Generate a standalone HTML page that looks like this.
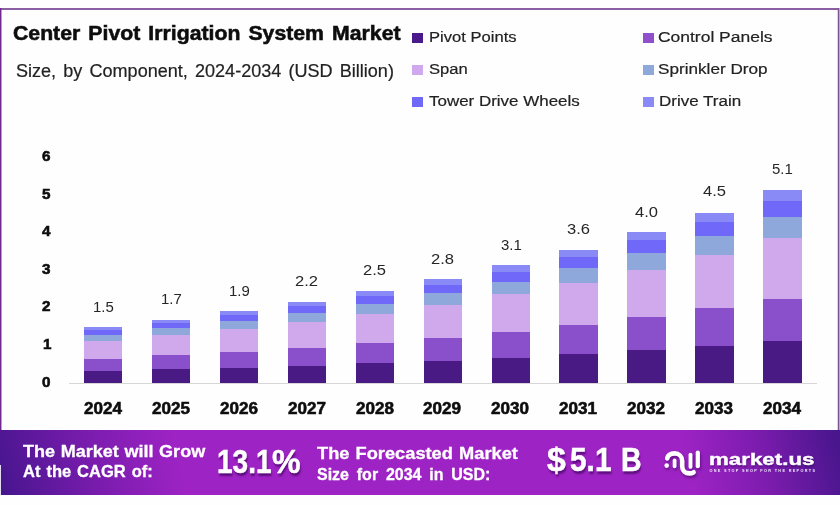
<!DOCTYPE html>
<html lang="en">
<head>
<meta charset="utf-8">
<title>Center Pivot Irrigation System Market</title>
<style>
html,body{margin:0;padding:0;background:#fefefe}
body{width:840px;height:505px;position:relative;overflow:hidden;font-family:"Liberation Sans", sans-serif}
.ft{position:absolute;left:0;top:8px;width:840px;height:2px;background:#8c5fa5}
.fl{position:absolute;left:0;top:8px;width:2px;height:423px;background:linear-gradient(90deg,#702890 0,#702890 1px,rgba(112,40,144,.45) 1px,rgba(112,40,144,.45) 2px)}
.fr{position:absolute;left:837px;top:8px;width:3px;height:423px;background:linear-gradient(90deg,rgba(122,85,144,.25) 0,rgba(122,85,144,.25) 1px,#7a5590 1px,#7a5590 2px,#c4a4d4 2px,#c4a4d4 3px)}
.wl{position:absolute;left:0;top:465px;width:1px;height:30px;background:rgba(255,255,255,.85)}
.t{position:absolute;white-space:pre;line-height:1em;transform-origin:0 50%}
.s,.b{position:absolute}
.p{display:inline-block;white-space:pre;transform-origin:0 50%;vertical-align:baseline}
.axis{position:absolute;left:69.0px;top:383.3px;width:747.5px;height:1px;background:#d6d6d6}
.banner{position:absolute;left:0;top:430px;width:840px;height:64.6px;background:linear-gradient(75deg,#441488 0%,#4a1690 1%,#7a1cae 12%,#9e23c4 22%,#9e23c4 81%,#7c1cae 90%,#4a168e 99%,#47168c 100%)}
</style>
</head>
<body>
<div class="ft"></div><div class="fl"></div><div class="fr"></div>
<div class="s" style="left:412.4px;top:33px;width:11px;height:10.4px;background:#4a1a8a"></div>
<div class="s" style="left:412.4px;top:65px;width:11px;height:10.4px;background:#d0a8ee"></div>
<div class="s" style="left:412.4px;top:97px;width:11px;height:10.4px;background:#7068f6"></div>
<div class="s" style="left:643px;top:33px;width:11px;height:10.4px;background:#9050cc"></div>
<div class="s" style="left:643px;top:65px;width:11px;height:10.4px;background:#8fa8dc"></div>
<div class="s" style="left:643px;top:97px;width:11px;height:10.4px;background:#8a8af6"></div>
<div class="axis"></div>
<div class="b" style="left:83.78px;top:371.04px;width:38.4px;height:12.26px;background:#4a1a84"></div>
<div class="b" style="left:83.78px;top:358.56px;width:38.4px;height:12.48px;background:#8a50cc"></div>
<div class="b" style="left:83.78px;top:340.81px;width:38.4px;height:17.75px;background:#d0a8ec"></div>
<div class="b" style="left:83.78px;top:334.72px;width:38.4px;height:6.09px;background:#8fa8dc"></div>
<div class="b" style="left:83.78px;top:329.93px;width:38.4px;height:4.79px;background:#7068f8"></div>
<div class="b" style="left:83.78px;top:326.95px;width:38.4px;height:2.99px;background:#8a8af6"></div>
<div class="b" style="left:151.73px;top:369.44px;width:38.4px;height:13.86px;background:#4a1a84"></div>
<div class="b" style="left:151.73px;top:355.32px;width:38.4px;height:14.12px;background:#8a50cc"></div>
<div class="b" style="left:151.73px;top:335.24px;width:38.4px;height:20.08px;background:#d0a8ec"></div>
<div class="b" style="left:151.73px;top:328.36px;width:38.4px;height:6.88px;background:#8fa8dc"></div>
<div class="b" style="left:151.73px;top:322.94px;width:38.4px;height:5.42px;background:#7068f8"></div>
<div class="b" style="left:151.73px;top:319.56px;width:38.4px;height:3.38px;background:#8a8af6"></div>
<div class="b" style="left:219.69px;top:367.62px;width:38.4px;height:15.68px;background:#4a1a84"></div>
<div class="b" style="left:219.69px;top:351.65px;width:38.4px;height:15.97px;background:#8a50cc"></div>
<div class="b" style="left:219.69px;top:328.95px;width:38.4px;height:22.71px;background:#d0a8ec"></div>
<div class="b" style="left:219.69px;top:321.16px;width:38.4px;height:7.79px;background:#8fa8dc"></div>
<div class="b" style="left:219.69px;top:315.03px;width:38.4px;height:6.13px;background:#7068f8"></div>
<div class="b" style="left:219.69px;top:311.21px;width:38.4px;height:3.82px;background:#8a8af6"></div>
<div class="b" style="left:287.64px;top:365.57px;width:38.4px;height:17.73px;background:#4a1a84"></div>
<div class="b" style="left:287.64px;top:347.51px;width:38.4px;height:18.06px;background:#8a50cc"></div>
<div class="b" style="left:287.64px;top:321.83px;width:38.4px;height:25.68px;background:#d0a8ec"></div>
<div class="b" style="left:287.64px;top:313.02px;width:38.4px;height:8.81px;background:#8fa8dc"></div>
<div class="b" style="left:287.64px;top:306.09px;width:38.4px;height:6.93px;background:#7068f8"></div>
<div class="b" style="left:287.64px;top:301.77px;width:38.4px;height:4.32px;background:#8a8af6"></div>
<div class="b" style="left:355.60px;top:363.24px;width:38.4px;height:20.06px;background:#4a1a84"></div>
<div class="b" style="left:355.60px;top:342.82px;width:38.4px;height:20.42px;background:#8a50cc"></div>
<div class="b" style="left:355.60px;top:313.77px;width:38.4px;height:29.05px;background:#d0a8ec"></div>
<div class="b" style="left:355.60px;top:303.81px;width:38.4px;height:9.96px;background:#8fa8dc"></div>
<div class="b" style="left:355.60px;top:295.98px;width:38.4px;height:7.84px;background:#7068f8"></div>
<div class="b" style="left:355.60px;top:291.09px;width:38.4px;height:4.89px;background:#8a8af6"></div>
<div class="b" style="left:423.55px;top:360.62px;width:38.4px;height:22.68px;background:#4a1a84"></div>
<div class="b" style="left:423.55px;top:337.52px;width:38.4px;height:23.10px;background:#8a50cc"></div>
<div class="b" style="left:423.55px;top:304.66px;width:38.4px;height:32.85px;background:#d0a8ec"></div>
<div class="b" style="left:423.55px;top:293.40px;width:38.4px;height:11.26px;background:#8fa8dc"></div>
<div class="b" style="left:423.55px;top:284.54px;width:38.4px;height:8.86px;background:#7068f8"></div>
<div class="b" style="left:423.55px;top:279.01px;width:38.4px;height:5.53px;background:#8a8af6"></div>
<div class="b" style="left:491.50px;top:357.65px;width:38.4px;height:25.65px;background:#4a1a84"></div>
<div class="b" style="left:491.50px;top:331.52px;width:38.4px;height:26.13px;background:#8a50cc"></div>
<div class="b" style="left:491.50px;top:294.36px;width:38.4px;height:37.16px;background:#d0a8ec"></div>
<div class="b" style="left:491.50px;top:281.62px;width:38.4px;height:12.74px;background:#8fa8dc"></div>
<div class="b" style="left:491.50px;top:271.60px;width:38.4px;height:10.03px;background:#7068f8"></div>
<div class="b" style="left:491.50px;top:265.35px;width:38.4px;height:6.25px;background:#8a8af6"></div>
<div class="b" style="left:559.46px;top:354.28px;width:38.4px;height:29.02px;background:#4a1a84"></div>
<div class="b" style="left:559.46px;top:324.74px;width:38.4px;height:29.55px;background:#8a50cc"></div>
<div class="b" style="left:559.46px;top:282.71px;width:38.4px;height:42.02px;background:#d0a8ec"></div>
<div class="b" style="left:559.46px;top:268.31px;width:38.4px;height:14.41px;background:#8fa8dc"></div>
<div class="b" style="left:559.46px;top:256.97px;width:38.4px;height:11.34px;background:#7068f8"></div>
<div class="b" style="left:559.46px;top:249.90px;width:38.4px;height:7.07px;background:#8a8af6"></div>
<div class="b" style="left:627.41px;top:350.48px;width:38.4px;height:32.82px;background:#4a1a84"></div>
<div class="b" style="left:627.41px;top:317.06px;width:38.4px;height:33.42px;background:#8a50cc"></div>
<div class="b" style="left:627.41px;top:269.54px;width:38.4px;height:47.53px;background:#d0a8ec"></div>
<div class="b" style="left:627.41px;top:253.24px;width:38.4px;height:16.30px;background:#8fa8dc"></div>
<div class="b" style="left:627.41px;top:240.42px;width:38.4px;height:12.82px;background:#7068f8"></div>
<div class="b" style="left:627.41px;top:232.42px;width:38.4px;height:8.00px;background:#8a8af6"></div>
<div class="b" style="left:695.37px;top:346.18px;width:38.4px;height:37.12px;background:#4a1a84"></div>
<div class="b" style="left:695.37px;top:308.39px;width:38.4px;height:37.80px;background:#8a50cc"></div>
<div class="b" style="left:695.37px;top:254.63px;width:38.4px;height:53.75px;background:#d0a8ec"></div>
<div class="b" style="left:695.37px;top:236.20px;width:38.4px;height:18.43px;background:#8fa8dc"></div>
<div class="b" style="left:695.37px;top:221.70px;width:38.4px;height:14.50px;background:#7068f8"></div>
<div class="b" style="left:695.37px;top:212.65px;width:38.4px;height:9.04px;background:#8a8af6"></div>
<div class="b" style="left:763.32px;top:341.32px;width:38.4px;height:41.98px;background:#4a1a84"></div>
<div class="b" style="left:763.32px;top:298.57px;width:38.4px;height:42.75px;background:#8a50cc"></div>
<div class="b" style="left:763.32px;top:237.78px;width:38.4px;height:60.80px;background:#d0a8ec"></div>
<div class="b" style="left:763.32px;top:216.93px;width:38.4px;height:20.84px;background:#8fa8dc"></div>
<div class="b" style="left:763.32px;top:200.53px;width:38.4px;height:16.41px;background:#7068f8"></div>
<div class="b" style="left:763.32px;top:190.30px;width:38.4px;height:10.23px;background:#8a8af6"></div>
<div class="banner"></div><div class="wl"></div>
<svg class="logo" width="60" height="40" viewBox="655 445 60 40" style="position:absolute;left:655px;top:445px;overflow:visible;filter:drop-shadow(1px 2px 1.5px rgba(50,0,80,.55))" fill="none" stroke="#fff" stroke-linecap="round" stroke-linejoin="round">
<circle cx="666.7" cy="465.6" r="2.3" fill="#fff" stroke="none"/>
<path d="M667.2 458.4 C668 455.3 671 453.4 674.6 453.4 C679 453.4 682.2 456.6 682.2 460.9 L682.2 466.2 C682.2 470.8 685.3 473.4 689.4 473.4 C691.2 473.4 692.6 473 693.6 472.3" stroke-width="4.6"/>
<path d="M674.6 460.4 V466.3" stroke-width="3.8"/>
<path d="M690.5 454.6 V466.9" stroke-width="3.9"/>
<path d="M697.8 452.6 V466.2" stroke-width="4.2"/>
</svg>
<div class="t" style="left:12.85px;top:23.00px;font-size:20.3px;font-weight:700;color:#0d0d0d;transform:scaleX(1.0469);word-spacing:2.09px;-webkit-text-stroke:0.55px currentColor;">Center Pivot Irrigation System Market</div>
<div class="t" style="left:15.98px;top:63.00px;font-size:17.6px;font-weight:400;color:#222;transform:scaleX(1.0256);word-spacing:2.11px;-webkit-text-stroke:0.2px currentColor;">Size, by Component, 2024-2034 (USD Billion)</div>
<div class="t" style="left:429.20px;top:29.00px;font-size:15.2px;font-weight:400;color:#222;transform:scaleX(1.0922);-webkit-text-stroke:0.2px currentColor;">Pivot Points</div>
<div class="t" style="left:429.20px;top:61.00px;font-size:15.2px;font-weight:400;color:#222;transform:scaleX(1.0934);-webkit-text-stroke:0.2px currentColor;">Span</div>
<div class="t" style="left:429.20px;top:93.00px;font-size:15.2px;font-weight:400;color:#222;transform:scaleX(1.1166);-webkit-text-stroke:0.2px currentColor;">Tower Drive Wheels</div>
<div class="t" style="left:658.00px;top:29.00px;font-size:15.2px;font-weight:400;color:#222;transform:scaleX(1.1493);-webkit-text-stroke:0.2px currentColor;">Control Panels</div>
<div class="t" style="left:658.40px;top:61.00px;font-size:15.2px;font-weight:400;color:#222;transform:scaleX(1.1290);-webkit-text-stroke:0.2px currentColor;">Sprinkler Drop</div>
<div class="t" style="left:658.60px;top:93.00px;font-size:15.2px;font-weight:400;color:#222;transform:scaleX(1.1193);-webkit-text-stroke:0.2px currentColor;">Drive Train</div>
<div class="t" style="left:92.78px;top:300.00px;font-size:14px;font-weight:400;color:#262626;transform:scaleX(1.0684);">1.5</div>
<div class="t" style="left:83.68px;top:401.00px;font-size:15.6px;font-weight:700;color:#0d0d0d;transform:scaleX(1.0950);-webkit-text-stroke:0.55px currentColor;">2024</div>
<div class="t" style="left:160.73px;top:292.00px;font-size:14px;font-weight:400;color:#262626;transform:scaleX(1.0684);">1.7</div>
<div class="t" style="left:151.63px;top:401.00px;font-size:15.6px;font-weight:700;color:#0d0d0d;transform:scaleX(1.0950);-webkit-text-stroke:0.55px currentColor;">2025</div>
<div class="t" style="left:228.69px;top:284.00px;font-size:14px;font-weight:400;color:#262626;transform:scaleX(1.0684);">1.9</div>
<div class="t" style="left:219.59px;top:401.00px;font-size:15.6px;font-weight:700;color:#0d0d0d;transform:scaleX(1.0950);-webkit-text-stroke:0.55px currentColor;">2026</div>
<div class="t" style="left:295.14px;top:274.00px;font-size:14px;font-weight:400;color:#262626;transform:scaleX(1.1814);">2.2</div>
<div class="t" style="left:287.54px;top:401.00px;font-size:15.6px;font-weight:700;color:#0d0d0d;transform:scaleX(1.0950);-webkit-text-stroke:0.55px currentColor;">2027</div>
<div class="t" style="left:363.10px;top:263.00px;font-size:14px;font-weight:400;color:#262626;transform:scaleX(1.1814);">2.5</div>
<div class="t" style="left:355.50px;top:401.00px;font-size:15.6px;font-weight:700;color:#0d0d0d;transform:scaleX(1.0950);-webkit-text-stroke:0.55px currentColor;">2028</div>
<div class="t" style="left:431.05px;top:252.00px;font-size:14px;font-weight:400;color:#262626;transform:scaleX(1.1814);">2.8</div>
<div class="t" style="left:423.45px;top:401.00px;font-size:15.6px;font-weight:700;color:#0d0d0d;transform:scaleX(1.0950);-webkit-text-stroke:0.55px currentColor;">2029</div>
<div class="t" style="left:500.50px;top:238.00px;font-size:14px;font-weight:400;color:#262626;transform:scaleX(1.0684);">3.1</div>
<div class="t" style="left:491.40px;top:401.00px;font-size:15.6px;font-weight:700;color:#0d0d0d;transform:scaleX(1.0950);-webkit-text-stroke:0.55px currentColor;">2030</div>
<div class="t" style="left:566.96px;top:222.00px;font-size:14px;font-weight:400;color:#262626;transform:scaleX(1.1814);">3.6</div>
<div class="t" style="left:559.36px;top:401.00px;font-size:15.6px;font-weight:700;color:#0d0d0d;transform:scaleX(1.0950);-webkit-text-stroke:0.55px currentColor;">2031</div>
<div class="t" style="left:634.91px;top:205.00px;font-size:14px;font-weight:400;color:#262626;transform:scaleX(1.1814);">4.0</div>
<div class="t" style="left:627.31px;top:401.00px;font-size:15.6px;font-weight:700;color:#0d0d0d;transform:scaleX(1.0950);-webkit-text-stroke:0.55px currentColor;">2032</div>
<div class="t" style="left:702.87px;top:184.00px;font-size:14px;font-weight:400;color:#262626;transform:scaleX(1.1814);">4.5</div>
<div class="t" style="left:695.27px;top:401.00px;font-size:15.6px;font-weight:700;color:#0d0d0d;transform:scaleX(1.0950);-webkit-text-stroke:0.55px currentColor;">2033</div>
<div class="t" style="left:772.32px;top:162.00px;font-size:14px;font-weight:400;color:#262626;transform:scaleX(1.0684);">5.1</div>
<div class="t" style="left:763.22px;top:401.00px;font-size:15.6px;font-weight:700;color:#0d0d0d;transform:scaleX(1.0950);-webkit-text-stroke:0.55px currentColor;">2034</div>
<div class="t" style="left:42.10px;top:375.00px;font-size:14px;font-weight:700;color:#0d0d0d;transform:scaleX(1.0902);-webkit-text-stroke:0.55px currentColor;">0</div>
<div class="t" style="left:43.10px;top:337.00px;font-size:14px;font-weight:700;color:#0d0d0d;transform:scaleX(1.0902);-webkit-text-stroke:0.55px currentColor;">1</div>
<div class="t" style="left:42.10px;top:299.00px;font-size:14px;font-weight:700;color:#0d0d0d;transform:scaleX(1.0902);-webkit-text-stroke:0.55px currentColor;">2</div>
<div class="t" style="left:42.10px;top:262.00px;font-size:14px;font-weight:700;color:#0d0d0d;transform:scaleX(1.0902);-webkit-text-stroke:0.55px currentColor;">3</div>
<div class="t" style="left:42.10px;top:224.00px;font-size:14px;font-weight:700;color:#0d0d0d;transform:scaleX(1.0902);-webkit-text-stroke:0.55px currentColor;">4</div>
<div class="t" style="left:42.10px;top:187.00px;font-size:14px;font-weight:700;color:#0d0d0d;transform:scaleX(1.0902);-webkit-text-stroke:0.55px currentColor;">5</div>
<div class="t" style="left:42.10px;top:149.00px;font-size:14px;font-weight:700;color:#0d0d0d;transform:scaleX(1.0902);-webkit-text-stroke:0.55px currentColor;">6</div>
<div class="t" style="left:22.58px;top:444.00px;font-size:16.6px;font-weight:700;color:#fff;transform:scaleX(1.0855);word-spacing:0.61px;-webkit-text-stroke:0.3px #fff;">The Market will Grow</div>
<div class="t" style="left:22.64px;top:464.00px;font-size:16.6px;font-weight:700;color:#fff;transform:scaleX(0.9949);word-spacing:1.38px;-webkit-text-stroke:0.3px #fff;">At the CAGR of:</div>
<div class="t" style="left:216.80px;top:445.00px;font-size:33.9px;font-weight:700;color:#fff;-webkit-text-stroke:0.5px #fff;text-shadow:1px 2.5px 2px rgba(50,0,80,.6);"><span class="p" style="width:55.20px;transform:scaleX(0.8261);">13.1</span><span class="p" style="transform:scaleX(0.9489);">%</span></div>
<div class="t" style="left:316.57px;top:446.00px;font-size:16.6px;font-weight:700;color:#fff;transform:scaleX(1.0993);word-spacing:0.98px;-webkit-text-stroke:0.3px #fff;">The Forecasted Market</div>
<div class="t" style="left:316.66px;top:467.00px;font-size:16.6px;font-weight:700;color:#fff;transform:scaleX(0.9642);word-spacing:3.45px;-webkit-text-stroke:0.3px #fff;">Size for 2034 in USD:</div>
<div class="t" style="left:546.60px;top:443.00px;font-size:33.5px;font-weight:700;color:#fff;-webkit-text-stroke:0.5px #fff;text-shadow:1px 2.5px 2px rgba(50,0,80,.6);"><span class="p" style="width:23.20px;transform:scaleX(1.0085);">$</span><span class="p" style="width:51.20px;transform:scaleX(0.8910);">5.1 </span><span class="p" style="transform:scaleX(0.8511);">B</span></div>
<div class="t" style="left:709.20px;top:451.00px;font-size:17.2px;font-weight:700;color:#fff;transform:scaleX(1.2990);-webkit-text-stroke:0.4px #fff;text-shadow:0.5px 1.5px 1.5px rgba(50,0,80,.55);">market.us</div>
<div class="t" style="left:709.50px;top:470.00px;font-size:3.8px;font-weight:700;color:#f3e4ff;letter-spacing:1.326px;">ONE STOP SHOP FOR THE REPORTS</div>
</body>
</html>
